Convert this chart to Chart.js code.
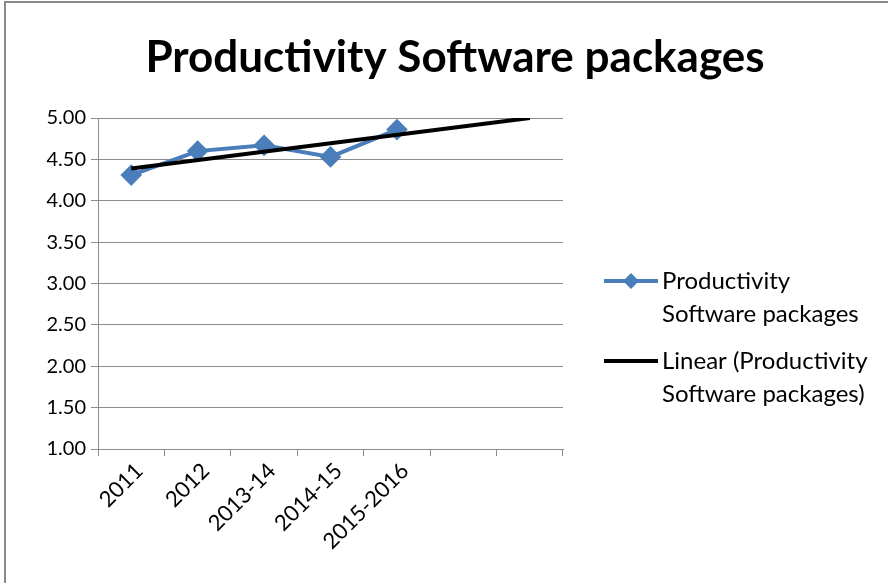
<!DOCTYPE html>
<html>
<head>
<meta charset="utf-8">
<script src="https://cdn.jsdelivr.net/npm/chart.js@4"></script>
<style>
    html, body { margin: 0; padding: 0; background: #fff; }
    #wrap { position: relative; width: 888px; height: 583px; }
</style>
</head>
<body>
<div id="wrap"><canvas id="productivityChart" width="888" height="583"></canvas></div>
<script>
// values
const categories = ['2011', '2012', '2013-14', '2014-15', '2015-2016', '', ''];
const productivityValues = [4.31, 4.60, 4.67, 4.53, 4.86, null, null];
// linear trendline, forecast forward two periods (end points)
const trendValues = [4.39, null, null, null, null, null, 5.00];
const yTickValues = [1.00, 1.50, 2.00, 2.50, 3.00, 3.50, 4.00, 4.50, 5.00];

const chartTitle = 'Productivity Software packages';
const seriesLabel = 'Productivity Software packages';
const trendLabel = 'Linear (Productivity Software packages)';

const FONT = 'Lato, "Open Sans", sans-serif';
const BLUE = '#4A7EBB';
const GRID = '#8c8c8c';

// frame, title and the two-line legend are drawn by hand
const decorPlugin = {
    id: 'decor',
    beforeDraw(chart) {
        const ctx = chart.ctx;
        ctx.save();
        ctx.fillStyle = '#fff';
        ctx.fillRect(0, 0, chart.width, chart.height);
        ctx.strokeStyle = '#8a8a8a';
        ctx.lineWidth = 2;
        ctx.beginPath();
        ctx.moveTo(5, chart.height);
        ctx.lineTo(5, 2);
        ctx.lineTo(chart.width, 2);
        ctx.stroke();
        ctx.restore();
    },
    afterDraw(chart) {
        const ctx = chart.ctx;
        const area = chart.chartArea;
        ctx.save();

        ctx.fillStyle = '#000';
        ctx.font = 'bold 44px ' + FONT;
        ctx.textAlign = 'center';
        ctx.textBaseline = 'middle';
        ctx.fillText(chartTitle, 455, 58);

        const lx = area.right + 41;
        const tx = lx + 58;
        ctx.font = '24px ' + FONT;
        ctx.textAlign = 'left';
        ctx.fillStyle = '#000';

        const items = [
            { ds: chart.data.datasets[0], y: 281, lines: ['Productivity', 'Software packages'] },
            { ds: chart.data.datasets[1], y: 361, lines: ['Linear (Productivity', 'Software packages)'] }
        ];
        items.forEach(item => {
            ctx.strokeStyle = item.ds.borderColor;
            ctx.lineWidth = item.ds.borderWidth;
            ctx.beginPath();
            ctx.moveTo(lx, item.y);
            ctx.lineTo(lx + 54, item.y);
            ctx.stroke();
            if (item.ds.pointRadius > 0) {
                const r = item.ds.pointRadius;
                const cx = lx + 27;
                ctx.fillStyle = item.ds.pointBackgroundColor;
                ctx.beginPath();
                ctx.moveTo(cx, item.y - r);
                ctx.lineTo(cx + r, item.y);
                ctx.lineTo(cx, item.y + r);
                ctx.lineTo(cx - r, item.y);
                ctx.closePath();
                ctx.fill();
            }
            ctx.fillStyle = '#000';
            item.lines.forEach((t, i) => ctx.fillText(t, tx, item.y + i * 33));
        });
        ctx.restore();
    }
};

new Chart(document.getElementById('productivityChart'), {
    type: 'line',
    data: {
        labels: categories,
        datasets: [
            {
                label: seriesLabel,
                data: productivityValues,
                borderColor: BLUE,
                backgroundColor: BLUE,
                pointBackgroundColor: BLUE,
                pointBorderColor: BLUE,
                borderWidth: 4,
                pointStyle: 'rectRot',
                pointRadius: 8,
                tension: 0,
                order: 2
            },
            {
                label: trendLabel,
                data: trendValues,
                borderColor: '#000',
                backgroundColor: '#000',
                borderWidth: 4,
                pointRadius: 0,
                spanGaps: true,
                tension: 0,
                order: 1
            }
        ]
    },
    plugins: [decorPlugin],
    options: {
        responsive: false,
        animation: false,
        events: [],
        layout: { padding: { top: 118, right: 325, left: 0, bottom: 0 } },
        plugins: {
            legend: { display: false },
            title: { display: false },
            tooltip: { enabled: false }
        },
        scales: {
            x: {
                offset: true,
                grid: {
                    offset: true,
                    drawOnChartArea: false,
                    drawTicks: true,
                    tickLength: 7,
                    color: GRID
                },
                border: { color: GRID, width: 1 },
                ticks: {
                    color: '#000',
                    font: { family: FONT, size: 22 },
                    minRotation: 45,
                    maxRotation: 45,
                    autoSkip: false,
                    padding: 2,
                    labelOffset: 8
                },
                afterFit(scale) { scale.height = 583 - 449; }
            },
            y: {
                min: 1,
                max: 5,
                afterBuildTicks(scale) {
                    scale.ticks = yTickValues.map(v => ({ value: v }));
                },
                grid: {
                    color: GRID,
                    drawTicks: true,
                    tickLength: 7
                },
                border: { color: GRID, width: 1 },
                ticks: {
                    color: '#000',
                    font: { family: FONT, size: 20 },
                    padding: 5,
                    callback: v => Number(v).toFixed(2)
                },
                afterFit(scale) { scale.width = 98; }
            }
        }
    }
});
</script>
</body>
</html>
